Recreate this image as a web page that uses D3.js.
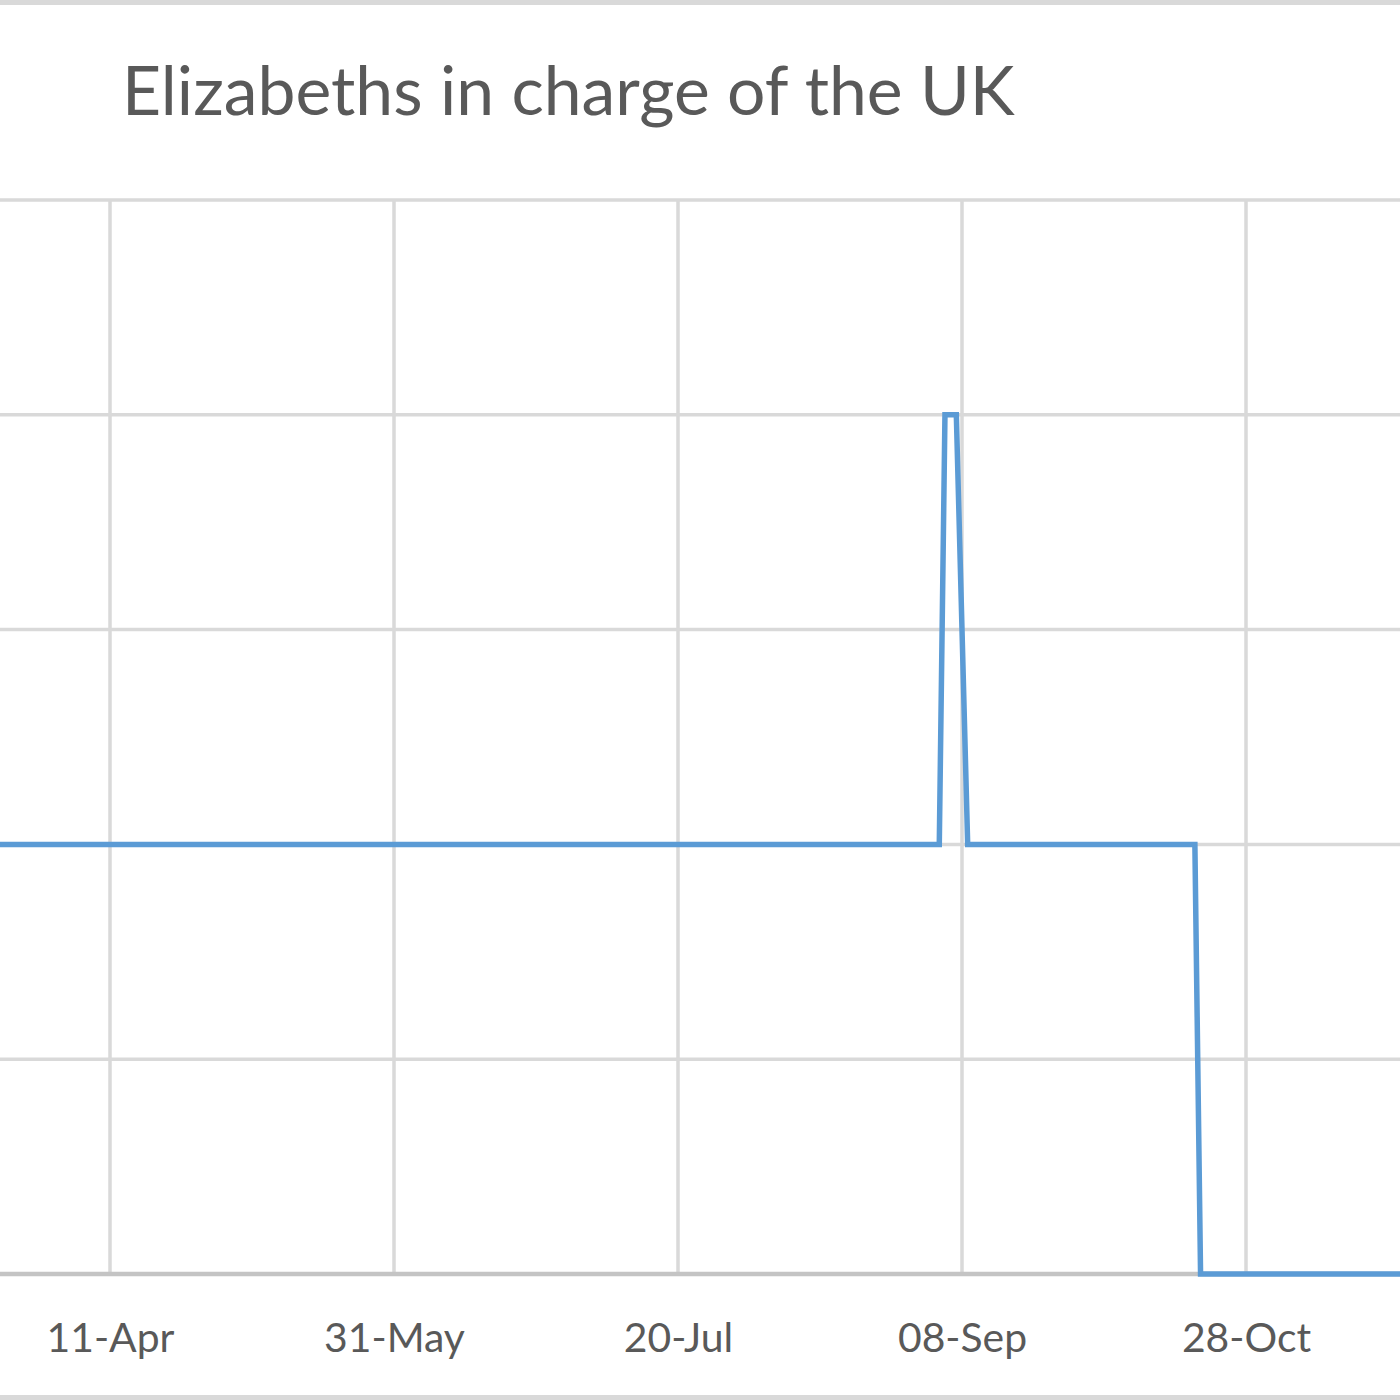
<!DOCTYPE html>
<html>
<head>
<meta charset="utf-8">
<script src="https://cdn.jsdelivr.net/npm/d3@7"></script>
<style>
  html, body { margin: 0; padding: 0; background: #fff; overflow: hidden; }
  svg { display: block; }
</style>
</head>
<body>
<svg id="chart" width="1400" height="1400"></svg>
<script>
// ---- data ----
const title = "Elizabeths in charge of the UK";
const dates = ["2022-03-01", "2022-09-04", "2022-09-05", "2022-09-07", "2022-09-09", "2022-10-19", "2022-10-20", "2022-12-01"];
const elizabeths = [1, 1, 2, 2, 1, 1, 0, 0];
const tickDates = ["2022-04-11", "2022-05-31", "2022-07-20", "2022-09-08", "2022-10-28"];
const tickLabels = ["11-Apr", "31-May", "20-Jul", "08-Sep", "28-Oct"];
const yTicks = [0, 0.5, 1, 1.5, 2, 2.5];

const parse = d3.timeParse("%Y-%m-%d");
const data = dates.map((d, i) => ({ date: parse(d), value: elizabeths[i] }));

const svg = d3.select("#chart");
const W = 1400, H = 1400;

// chart area border (Excel chart frame)
svg.append("rect")
  .attr("x", -20).attr("y", 2.5).attr("width", W + 40).attr("height", H - 5)
  .attr("fill", "#fff").attr("stroke", "#d9d9d9").attr("stroke-width", 5);

const x = d3.scaleTime()
  .domain([parse(tickDates[0]), parse(tickDates[4])])
  .range([110, 1246]);
const y = d3.scaleLinear().domain([0, 2.5]).range([1274, 200]);

const plotLeft = -40, plotRight = W + 40;

// horizontal gridlines
svg.append("g").selectAll("line")
  .data(yTicks.filter(v => v > 0))
  .join("line")
  .attr("x1", plotLeft).attr("x2", plotRight)
  .attr("y1", d => y(d)).attr("y2", d => y(d))
  .attr("stroke", "#d9d9d9").attr("stroke-width", 3.5);

// vertical gridlines
svg.append("g").selectAll("line")
  .data(tickDates.map(parse))
  .join("line")
  .attr("x1", d => x(d)).attr("x2", d => x(d))
  .attr("y1", y(2.5)).attr("y2", y(0))
  .attr("stroke", "#d9d9d9").attr("stroke-width", 3.5);

// x axis line
svg.append("line")
  .attr("x1", plotLeft).attr("x2", plotRight)
  .attr("y1", y(0)).attr("y2", y(0))
  .attr("stroke", "#c4c4c4").attr("stroke-width", 4.5);

// series line
const line = d3.line().x(d => x(d.date)).y(d => y(d.value));
svg.append("path")
  .datum(data)
  .attr("d", line)
  .attr("fill", "none")
  .attr("stroke", "#5b9bd5")
  .attr("stroke-width", 5.5)
  .attr("stroke-linejoin", "miter");

// x axis labels via d3 axis
const xAxis = d3.axisBottom(x)
  .tickValues(tickDates.map(parse))
  .tickFormat((d, i) => tickLabels[i])
  .tickSize(0).tickPadding(0);
const gx = svg.append("g").attr("transform", `translate(0, 1352)`).call(xAxis);
gx.select(".domain").remove();
gx.selectAll("text")
  .attr("dy", 0)
  .attr("fill", "#595959")
  .attr("font-family", "Lato, 'Open Sans', sans-serif")
  .attr("font-size", 40);

// title
const t = svg.append("text")
  .attr("x", 122).attr("y", 115)
  .attr("fill", "#595959")
  .attr("font-family", "Lato, 'Open Sans', sans-serif")
  .attr("font-size", 64)
  .text(title);
// fit title width to reference
const tw = t.node().getComputedTextLength();
t.attr("font-size", 64 * 893 / tw);

// fit tick labels to reference width ("11-Apr" ~128px)
const firstW = gx.select("text").node().getComputedTextLength();
gx.selectAll("text").attr("font-size", 40 * 128 / firstW);
</script>
</body>
</html>
